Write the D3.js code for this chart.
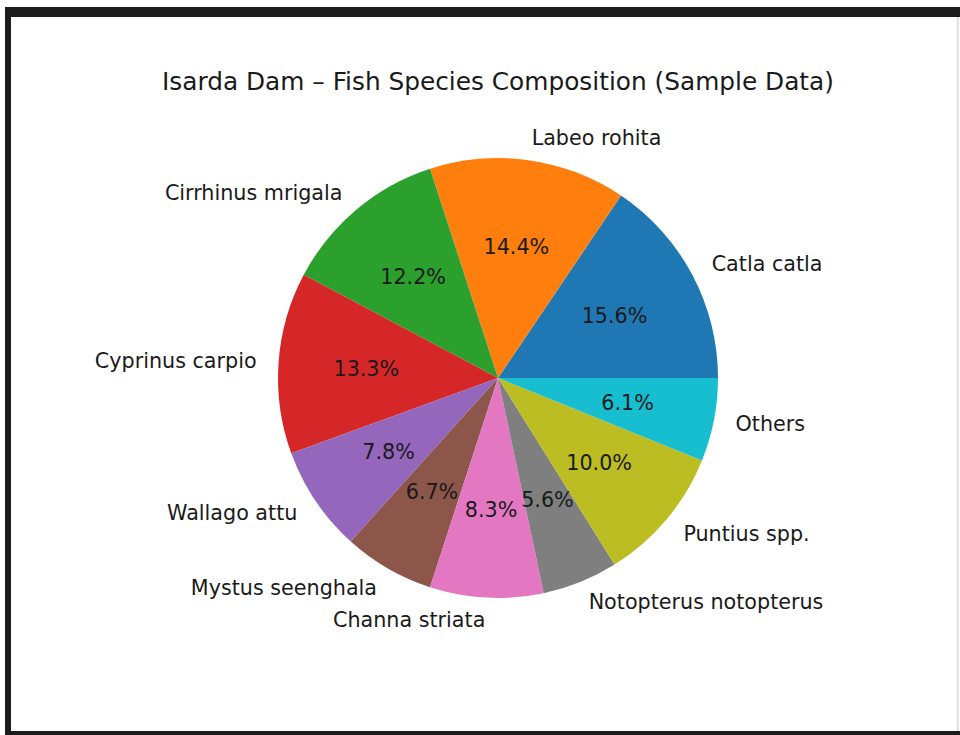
<!DOCTYPE html>
<html>
<head>
<meta charset="utf-8">
<script src="https://cdn.jsdelivr.net/npm/d3@7"></script>
<style>
html,body{margin:0;padding:0;background:#fff;}
svg{display:block;}
text{font-family:"DejaVu Sans",sans-serif;fill:#1a1a1a;}
</style>
</head>
<body>
<svg id="chart" width="960" height="735"></svg>
<script>
const species = ["Catla catla","Labeo rohita","Cirrhinus mrigala","Cyprinus carpio","Wallago attu","Mystus seenghala","Channa striata","Notopterus notopterus","Puntius spp.","Others"];
const counts = [28, 26, 22, 24, 14, 12, 15, 10, 18, 11];
const colors = ["#1f77b4","#ff7f0e","#2ca02c","#d62728","#9467bd","#8c564b","#e377c2","#7f7f7f","#bcbd22","#17becf"];
const title = "Isarda Dam \u2013 Fish Species Composition (Sample Data)";

const svg = d3.select("#chart");
const W = 960, H = 735;

// screenshot frame
svg.append("rect").attr("x",5).attr("y",7).attr("width",W-5).attr("height",10).attr("fill","#1c1c1c");
svg.append("rect").attr("x",5).attr("y",7).attr("width",6).attr("height",H-7).attr("fill","#1c1c1c");
svg.append("rect").attr("x",5).attr("y",731).attr("width",W-5).attr("height",4).attr("fill","#1c1c1c");
svg.append("rect").attr("x",957).attr("y",17).attr("width",1.5).attr("height",714).attr("fill","#d8d8d8");

const cx = 498, cy = 378, R = 220;
const total = d3.sum(counts);
const data = species.map((s,i)=>({name:s,value:counts[i],color:colors[i]}));

// matplotlib: start at 0 (east), counter-clockwise. d3 angles: 0 at north, clockwise.
const pie = d3.pie().value(d=>d.value).sort(null)
  .startAngle(Math.PI/2).endAngle(Math.PI/2 - 2*Math.PI);
const arcs = pie(data);
const arc = d3.arc().innerRadius(0).outerRadius(R);

const g = svg.append("g").attr("transform",`translate(${cx},${cy})`);
g.selectAll("path").data(arcs).join("path")
  .attr("d",arc).attr("fill",d=>d.data.color);

function pos(d, r){
  const a = (d.startAngle + d.endAngle)/2; // d3 angle
  return [r*Math.sin(a), -r*Math.cos(a)];
}
const fmt = d3.format(".1f");
g.selectAll("text.lbl").data(arcs).join("text")
  .attr("class","lbl")
  .attr("x",d=>pos(d,1.1*R)[0]).attr("y",d=>pos(d,1.1*R)[1])
  .attr("text-anchor",d=>pos(d,1.1*R)[0]>0?"start":"end")
  .attr("dominant-baseline","central")
  .style("font-size","20.7px")
  .text(d=>d.data.name);
g.selectAll("text.pct").data(arcs).join("text")
  .attr("class","pct")
  .attr("x",d=>pos(d,0.6*R)[0]).attr("y",d=>pos(d,0.6*R)[1])
  .attr("text-anchor","middle")
  .attr("dominant-baseline","central")
  .style("font-size","20.7px")
  .text(d=>fmt(d.value/total*100)+"%");

svg.append("text").attr("x",cx).attr("y",90).attr("text-anchor","middle")
  .style("font-size","24.8px").text(title);
</script>
</body>
</html>
